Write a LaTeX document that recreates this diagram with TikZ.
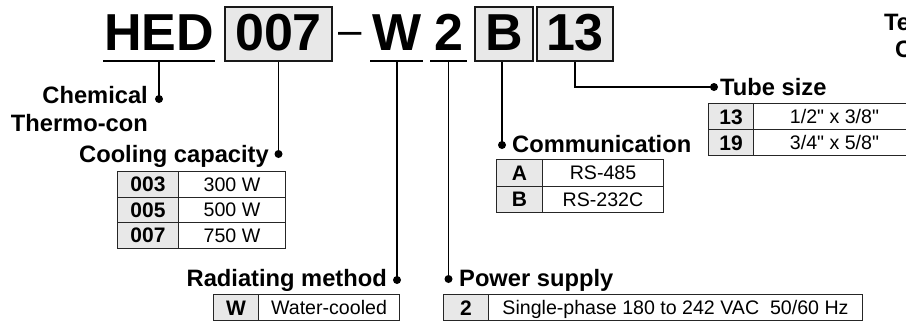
\documentclass[tikz,border=0pt]{standalone}
\usepackage{fontspec}
\setmainfont{Liberation Sans}
\newfontfamily\plainsans{Liberation Sans}
\begin{document}
\begin{tikzpicture}[x=1pt,y=-1pt,
 hdr/.style={font=\bfseries\fontsize{52}{52}\selectfont, inner sep=0pt, anchor=base},
 hbox/.style={draw=black!90, line width=2pt, fill=gray!18, inner sep=0pt, minimum height=54pt},
 lbl/.style={font=\bfseries\fontsize{23.7}{26}\selectfont, inner sep=0pt},
 cell/.style={draw=black!85, line width=1pt, inner sep=0pt, anchor=north west},
 code/.style={cell, fill=gray!18, font=\bfseries\fontsize{21}{21}\selectfont, text height=15pt, text depth=0pt},
 val/.style={cell, fill=white, font=\plainsans\fontsize{19.6}{20}\selectfont, text height=14pt, text depth=0pt},
 conn/.style={line width=1.6pt},
 dotn/.style={circle, fill=black, inner sep=0pt, minimum size=8pt},
 uline/.style={line width=2pt}]
\useasboundingbox (0,0) rectangle (906,322);
\clip (0,0) rectangle (906,322);

% header boxes
\node[hbox, minimum width=107pt] (b007) at (278.5,34) {};
\node[hbox, minimum width=58pt] (bB) at (504,34) {};
\node[hbox, minimum width=76pt] (b13) at (575,34) {};

% header text
\node[hdr] (hed) at (159,50) {HED};
\node[hdr] (t007) at (278.5,50) {007};
\node[font=\fontsize{42}{42}\selectfont, inner sep=0pt, anchor=base] (dash) at (350.5,44.5) {–};
\node[hdr] (tW) at (397,50) {W};
\node[hdr] (t2) at (448.5,50) {2};
\node[hdr] (tB) at (504,50) {B};
\node[hdr] (t13) at (575,50) {13};

% underlines
\coordinate (uhedL) at (103,61); \coordinate (uhedR) at (215,61); \coordinate (uhed) at (159,61);
\coordinate (uWL) at (370,61); \coordinate (uWR) at (423,61); \coordinate (uW) at (397,61);
\coordinate (u2L) at (430,61); \coordinate (u2R) at (467,61); \coordinate (u2) at (448.5,61);
\draw[uline] (uhedL) -- (uhedR);
\draw[uline] (uWL) -- (uWR);
\draw[uline] (u2L) -- (u2R);

% dots
\node[dotn] (dchem) at (159,99) {};
\node[dotn] (dcool) at (278.5,154) {};
\node[dotn] (drad) at (397,280) {};
\node[dotn] (dpow) at (448.5,279) {};
\node[dotn] (dcomm) at (502,145) {};
\node[dotn] (dtube) at (714,87) {};

% connectors
\draw[conn] (uhed) -- (dchem.center);
\draw[conn] (b007.south) -- (dcool.center);
\draw[conn] (uW) -- (drad.center);
\draw[conn] (u2) -- (dpow.center);
\draw[conn] (dcomm |- bB.south) -- (dcomm.center);
\draw[conn] (b13.south) |- (dtube.center);

% labels
\node[lbl, anchor=base east] (lchem) at (148,103) {Chemical};
\node[lbl, anchor=base east] (lthermo) at (148,131) {Thermo-con};
\node[lbl, anchor=base east] (lcool) at (269,162) {Cooling capacity};
\node[lbl, anchor=base east] (lrad) at (387,286) {Radiating method};
\node[lbl, anchor=base west] (lpow) at (459,286) {Power supply};
\node[lbl, anchor=base west] (lcomm) at (512,152) {Communication};
\node[lbl, anchor=base west] (ltube) at (720,95) {Tube size};
\node[lbl, anchor=base west] (lte) at (884,30) {Te};
\node[lbl, anchor=base west] (lc) at (895,57) {C};

% cooling capacity table
\node[code, minimum width=61pt, minimum height=25.5pt] (c003) at (117,171) {003};
\node[val, minimum width=107pt, minimum height=25.5pt] (v003) at (178,171) {300 W};
\node[code, minimum width=61pt, minimum height=25.5pt] (c005) at (117,196.5) {005};
\node[val, minimum width=107pt, minimum height=25.5pt] (v005) at (178,196.5) {500 W};
\node[code, minimum width=61pt, minimum height=25.5pt] (c007) at (117,222) {007};
\node[val, minimum width=107pt, minimum height=25.5pt] (v007) at (178,222) {750 W};

% communication table
\node[code, minimum width=46pt, minimum height=26.5pt] (cA) at (496,159) {A};
\node[val, minimum width=121pt, minimum height=26.5pt] (vA) at (542,159) {RS-485};
\node[code, minimum width=46pt, minimum height=26.5pt] (cB) at (496,185.5) {B};
\node[val, minimum width=121pt, minimum height=26.5pt] (vB) at (542,185.5) {RS-232C};

% tube size table
\node[code, minimum width=45pt, minimum height=26pt] (c13) at (708,103) {13};
\node[val, minimum width=162pt, minimum height=26pt] (v13) at (753,103) {1/2" x 3/8"};
\node[code, minimum width=45pt, minimum height=26pt] (c19) at (708,129) {19};
\node[val, minimum width=162pt, minimum height=26pt] (v19) at (753,129) {3/4" x 5/8"};

% radiating method table
\node[code, minimum width=45pt, minimum height=26pt] (cW) at (213,294) {W};
\node[val, minimum width=141pt, minimum height=26pt] (vW) at (258,294) {Water-cooled};

% power supply table
\node[code, minimum width=45pt, minimum height=26pt] (c2) at (443,294) {2};
\node[val, minimum width=374pt, minimum height=26pt] (v2) at (488,294) {Single-phase 180 to 242 VAC~~50/60 Hz};
\end{tikzpicture}
\end{document}
